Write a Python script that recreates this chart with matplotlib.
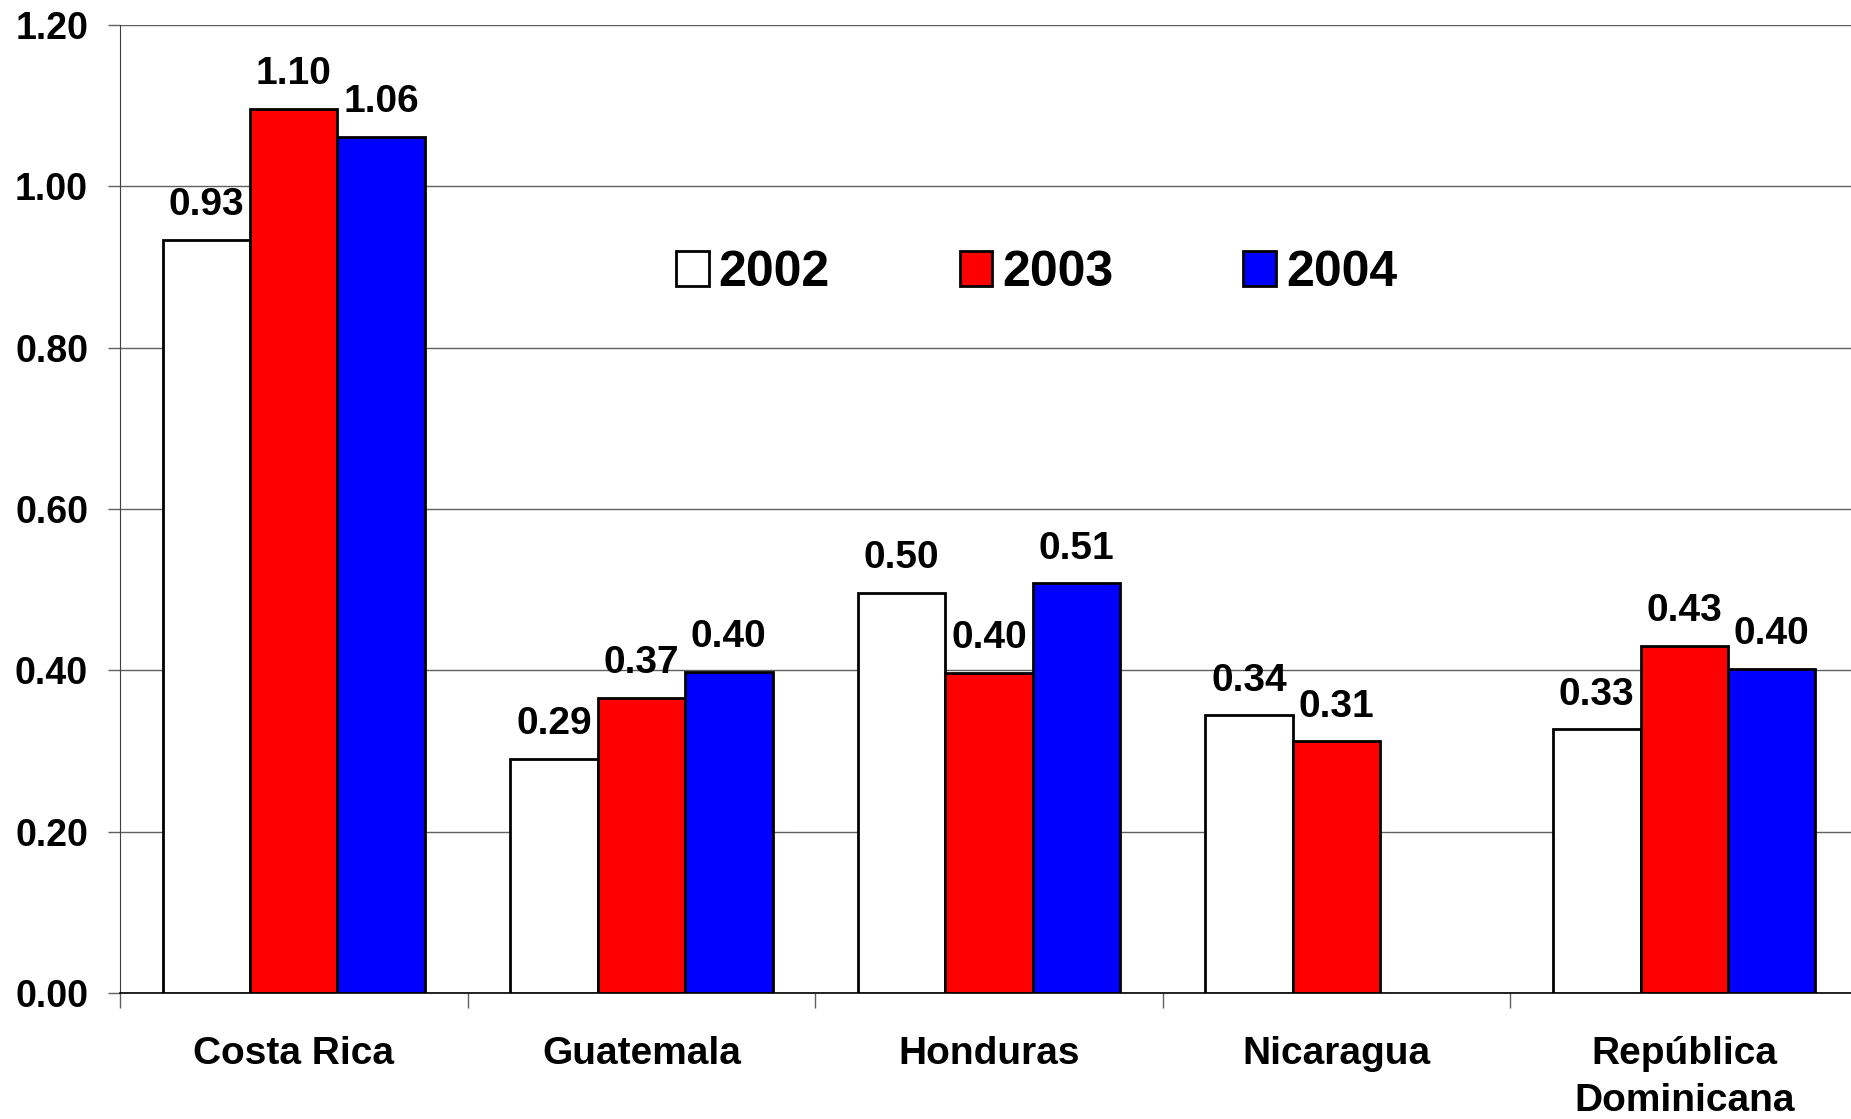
import matplotlib

matplotlib.use("Agg")
import matplotlib.pyplot as plt
import numpy as np


COUNTRIES = ["Costa Rica", "Guatemala", "Honduras", "Nicaragua", "República\nDominicana"]
YEARS = ["2002", "2003", "2004"]
VALUES_2002 = [0.934, 0.290, 0.496, 0.344, 0.327]
VALUES_2003 = [1.096, 0.366, 0.397, 0.312, 0.430]
VALUES_2004 = [1.061, 0.398, 0.508, None, 0.402]
Y_TICKS = [0.0, 0.2, 0.4, 0.6, 0.8, 1.0, 1.2]

COLORS = ["#ffffff", "#ff0000", "#0000ff"]
FONT = "Liberation Sans"


def plot_chart(out_path: str) -> None:
    plt.rcParams["font.family"] = [FONT, "DejaVu Sans"]
    plt.rcParams["font.weight"] = "bold"

    fig = plt.figure(figsize=(18.51, 11.19), dpi=100)
    ax = fig.add_axes([0.0648, 0.1126, 0.939, 0.8651])

    x = np.arange(len(COUNTRIES))
    width = 0.2515
    series = [VALUES_2002, VALUES_2003, VALUES_2004]

    for i, (year, vals) in enumerate(zip(YEARS, series)):
        xs = [xi + (i - 1) * width for xi, v in zip(x, vals) if v is not None]
        hs = [v for v in vals if v is not None]
        bars = ax.bar(xs, hs, width, color=COLORS[i], edgecolor="black",
                      linewidth=2.0, label=year, zorder=3)
        for rect, v in zip(bars, hs):
            ax.annotate(f"{v:.2f}", (rect.get_x() + rect.get_width() / 2, v),
                        xytext=(0, 12), textcoords="offset points",
                        ha="center", va="bottom", fontsize=28, fontweight="bold")

    ax.set_xlim(-0.5, len(COUNTRIES) - 0.5)
    ax.set_ylim(0, 1.2)
    ax.set_yticks(Y_TICKS)
    ax.set_yticklabels([f"{t:.2f}" for t in Y_TICKS])
    ax.yaxis.grid(True, color="#606060", linewidth=1.0, zorder=0)
    ax.tick_params(axis="y", length=9, width=1, color="#606060", pad=14,
                   labelsize=27)

    ax.set_xticks(np.arange(len(COUNTRIES) + 1) - 0.5)
    ax.set_xticklabels([])
    ax.set_xticks(x, minor=True)
    ax.set_xticklabels(COUNTRIES, minor=True, fontsize=28, fontweight="bold",
                       linespacing=1.4)
    ax.tick_params(axis="x", which="major", length=11, width=1, color="#606060")
    ax.tick_params(axis="x", which="minor", length=0, pad=31)

    ax.spines["top"].set_visible(False)
    ax.spines["right"].set_visible(False)
    ax.spines["left"].set_color("#404040")
    ax.spines["bottom"].set_color("black")
    ax.spines["bottom"].set_linewidth(1.2)

    fig.legend(loc="center", bbox_to_anchor=(0.56, 0.756), ncol=3,
               frameon=False, handlelength=0.65, handleheight=0.7,
               handletextpad=0.2, columnspacing=2.6,
               prop={"family": [FONT], "weight": "bold", "size": 36})

    fig.savefig(out_path, dpi=100)
    plt.close(fig)


def main() -> None:
    plot_chart("out.png")


if __name__ == "__main__":
    main()
